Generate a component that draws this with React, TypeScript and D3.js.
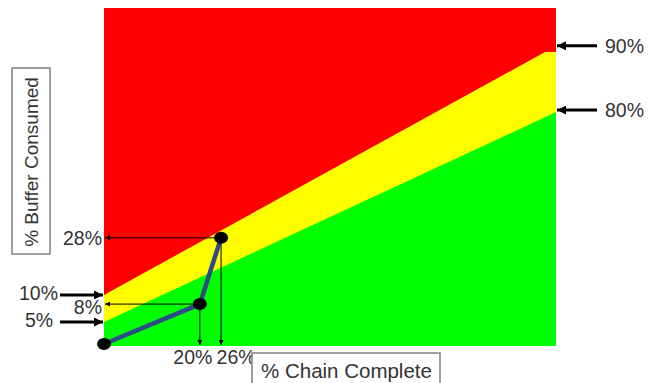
import React from "react";
import * as d3 from "d3";

// Plotted values (percent of chain / buffer)
const chainPct = [0, 21.2, 25.9];
const bufferPct = [0.6, 12.4, 32];
const pointLabelsX = ["20%", "26%"];
const pointLabelsY = ["8%", "28%"];

const greenX = [0, 100];
const greenTop = [7.1, 69.2];
const yellowX = [0, 97.6, 100];
const yellowTop = [15.1, 87, 87];

const leftMarkValues = [15.1, 7.1];
const leftMarkLabels = ["10%", "5%"];
const rightMarkValues = [88.8, 69.8];
const rightMarkLabels = ["90%", "80%"];

const xTitle = "% Chain Complete";
const yTitle = "% Buffer Consumed";

const W = 648;
const H = 383;
const L = 104, R = 556, T = 8, B = 346;

export default function App() {
  const x = d3.scaleLinear().domain([0, 100]).range([L, R]);
  const y = d3.scaleLinear().domain([0, 100]).range([B, T]);

  const area = d3
    .area<[number, number]>()
    .x((d) => x(d[0]))
    .y0(y(0))
    .y1((d) => y(d[1]));

  const greenPts: [number, number][] = greenX.map((v, i) => [v, greenTop[i]]);
  const yellowPts: [number, number][] = yellowX.map((v, i) => [v, yellowTop[i]]);
  const linePts: [number, number][] = chainPct.map((v, i) => [v, bufferPct[i]]);
  const line = d3
    .line<[number, number]>()
    .x((d) => x(d[0]))
    .y((d) => y(d[1]));

  const font = "'Liberation Sans', Arial, sans-serif";
  const txt = "#333";
  const fs = 19.5;

  return (
    <svg width={W} height={H} style={{ display: "block", position: "absolute", left: 0, top: 0 }}>
      <defs>
        <marker id="thick" viewBox="0 0 10 10" refX="10" refY="5" markerWidth="3.4" markerHeight="3" orient="auto" markerUnits="strokeWidth">
          <path d="M0,0 L10,5 L0,10 z" fill="#000" />
        </marker>
        <marker id="thin" viewBox="0 0 10 10" refX="10" refY="5" markerWidth="7" markerHeight="5" orient="auto" markerUnits="strokeWidth">
          <path d="M0,0 L10,5 L0,10 z" fill="#000" />
        </marker>
      </defs>
      <rect x={0} y={0} width={W} height={H} fill="#fff" />
      {/* zones */}
      <rect x={x(0)} y={y(100)} width={x(100) - x(0)} height={y(0) - y(100)} fill="#FF0000" />
      <path d={area(yellowPts) || ""} fill="#FFFF00" />
      <path d={area(greenPts) || ""} fill="#00FF00" />

      {/* guide arrows from points */}
      {chainPct.slice(1).map((c, i) => (
        <g key={i}>
          <line x1={x(c)} y1={y(bufferPct[i + 1])} x2={x(0) + 1} y2={y(bufferPct[i + 1])} stroke="#000" strokeWidth={1} markerEnd="url(#thin)" />
          <line x1={x(c)} y1={y(bufferPct[i + 1])} x2={x(c)} y2={y(0) - 1} stroke="#000" strokeWidth={1} markerEnd="url(#thin)" />
        </g>
      ))}

      {/* path line */}
      <path d={line(linePts) || ""} fill="none" stroke="#2F4A88" strokeWidth={4.5} strokeLinejoin="round" />
      {linePts.map((p, i) => (
        <ellipse key={i} cx={x(p[0])} cy={y(p[1])} rx={7} ry={6} fill="#000" />
      ))}

      {/* point labels */}
      {pointLabelsY.map((lab, i) => (
        <text key={"py" + i} x={x(0) - 2} y={y(bufferPct[i + 1]) + (i === 0 ? 10 : 7)} textAnchor="end" fontFamily={font} fontSize={fs} fill={txt}>
          {lab}
        </text>
      ))}
      {pointLabelsX.map((lab, i) => (
        <text key={"px" + i} x={x(chainPct[i + 1]) + (i === 0 ? -7 : 15)} y={B + 18} textAnchor="middle" fontFamily={font} fontSize={fs} fill={txt}>
          {lab}
        </text>
      ))}

      {/* left zone markers */}
      {leftMarkValues.map((v, i) => (
        <g key={"lm" + i}>
          <line x1={60} y1={y(v)} x2={x(0) - 1} y2={y(v)} stroke="#000" strokeWidth={3} markerEnd="url(#thick)" />
          <text x={i === 0 ? 19 : 25} y={y(v) + (i === 0 ? 5 : 5)} fontFamily={font} fontSize={fs} fill={txt}>
            {leftMarkLabels[i]}
          </text>
        </g>
      ))}

      {/* right zone markers */}
      {rightMarkValues.map((v, i) => (
        <g key={"rm" + i}>
          <line x1={597} y1={y(v)} x2={x(100) + 1} y2={y(v)} stroke="#000" strokeWidth={3} markerEnd="url(#thick)" />
          <text x={605} y={y(v) + 7} fontFamily={font} fontSize={fs} fill={txt}>
            {rightMarkLabels[i]}
          </text>
        </g>
      ))}

      {/* y title box */}
      <rect x={12} y={68} width={38} height={186} fill="#fff" stroke="#808080" strokeWidth={1.5} />
      <text transform="translate(38,162) rotate(-90)" textAnchor="middle" fontFamily={font} fontSize={19} fill={txt}>
        {yTitle}
      </text>

      {/* x title box */}
      <rect x={252} y={353} width={188} height={40} fill="#fff" stroke="#808080" strokeWidth={1.5} />
      <text x={261} y={378} fontFamily={font} fontSize={20.5} fill={txt}>
        {xTitle}
      </text>
    </svg>
  );
}
